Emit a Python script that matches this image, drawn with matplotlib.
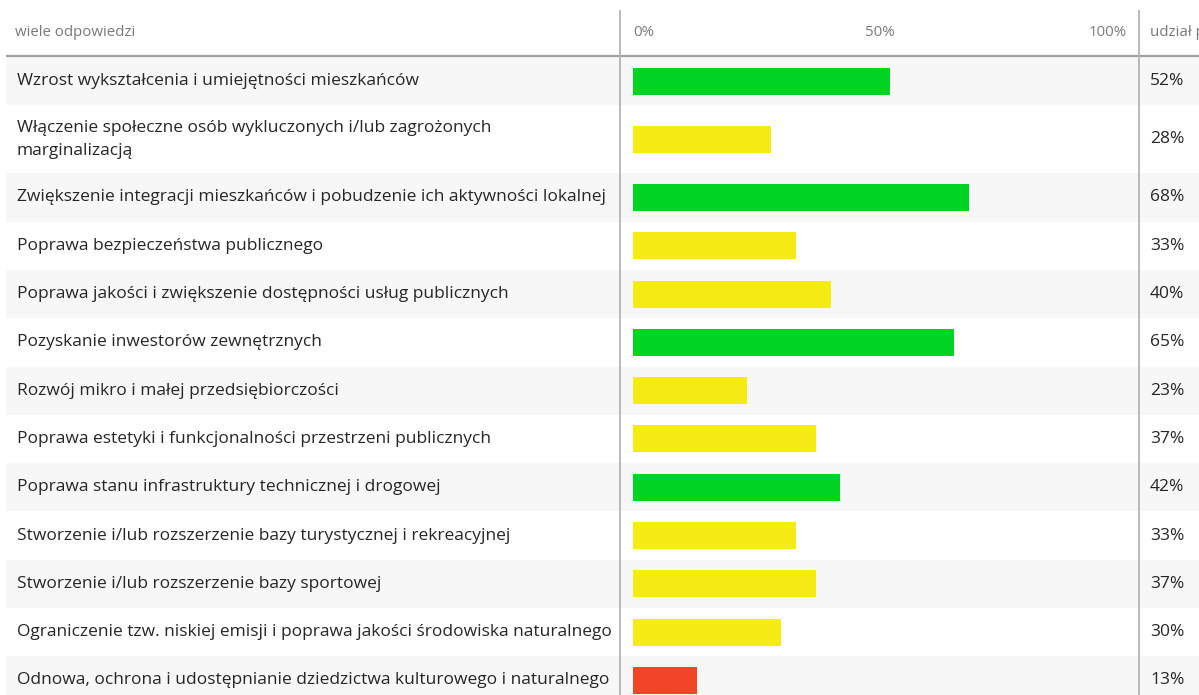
import matplotlib.pyplot as plt
import numpy as np

plt.rcParams['font.family'] = ['Open Sans', 'DejaVu Sans']

labels = [
    "Wzrost wykształcenia i umiejętności mieszkańców",
    "Włączenie społeczne osób wykluczonych i/lub zagrożonych\nmarginalizacją",
    "Zwiększenie integracji mieszkańców i pobudzenie ich aktywności lokalnej",
    "Poprawa bezpieczeństwa publicznego",
    "Poprawa jakości i zwiększenie dostępności usług publicznych",
    "Pozyskanie inwestorów zewnętrznych",
    "Rozwój mikro i małej przedsiębiorczości",
    "Poprawa estetyki i funkcjonalności przestrzeni publicznych",
    "Poprawa stanu infrastruktury technicznej i drogowej",
    "Stworzenie i/lub rozszerzenie bazy turystycznej i rekreacyjnej",
    "Stworzenie i/lub rozszerzenie bazy sportowej",
    "Ograniczenie tzw. niskiej emisji i poprawa jakości środowiska naturalnego",
    "Odnowa, ochrona i udostępnianie dziedzictwa kulturowego i naturalnego",
]
values = [52, 28, 68, 33, 40, 65, 23, 37, 42, 33, 37, 30, 13]
colors = ['#00d423', '#f5ec14', '#00d423', '#f5ec14', '#f5ec14', '#00d423', '#f5ec14',
          '#f5ec14', '#00d423', '#f5ec14', '#f5ec14', '#f5ec14', '#f24426']
ticks = [0, 50, 100]
tick_labels = ['0%', '50%', '100%']

W, H = 1199, 695
fig = plt.figure(figsize=(W / 100, H / 100), dpi=100)

# background axes in pixel units: bands, grid lines, text
bg = fig.add_axes([0, 0, 1, 1])
bg.set_xlim(0, W)
bg.set_ylim(H, 0)
bg.axis('off')

heights = np.array([68 if '\n' in l else 48.3 for l in labels])
tops = 57 + np.concatenate([[0], np.cumsum(heights)[:-1]])
centers = tops + heights / 2

for i, lab in enumerate(labels):
    if i % 2 == 0:
        bg.axhspan(tops[i], tops[i] + heights[i], xmin=6 / W, xmax=1, color='#f7f7f7', lw=0, zorder=0)
    bg.text(17, centers[i], lab, ha='left', va='center', fontsize=12.5, color='#262626',
            linespacing=1.62)
    bg.text(1150, centers[i], f'{values[i]}%', ha='left', va='center', fontsize=12.5,
            color='#262626')

bg.hlines(56, 6, W, color='#a0a0a0', lw=1.6, zorder=2)
bg.vlines([620, 1139], 10, H, color='#b4b4b4', lw=1.3, zorder=2)
bg.text(15, 32, 'wiele odpowiedzi', ha='left', va='center', fontsize=10.8, color='#7a7a7a')
bg.text(1150, 32, 'udział procentowy', ha='left', va='center', fontsize=10.8, color='#7a7a7a',
        clip_on=True)

# bar axes
ax = fig.add_axes([620 / W, 0, 519 / W, 1])
ax.patch.set_alpha(0)
ax.set_ylim(H, 0)
ax.set_xlim(-13 / 4.94, 506 / 4.94)
ax.barh(centers, values, height=27, color=colors, zorder=3)
for t, tl, ha in zip(ticks, tick_labels, ['left', 'center', 'right']):
    ax.text(t, 32, tl, ha=ha, va='center', fontsize=10.8, color='#7a7a7a')
ax.axis('off')

fig.savefig('out.png', dpi=100)
